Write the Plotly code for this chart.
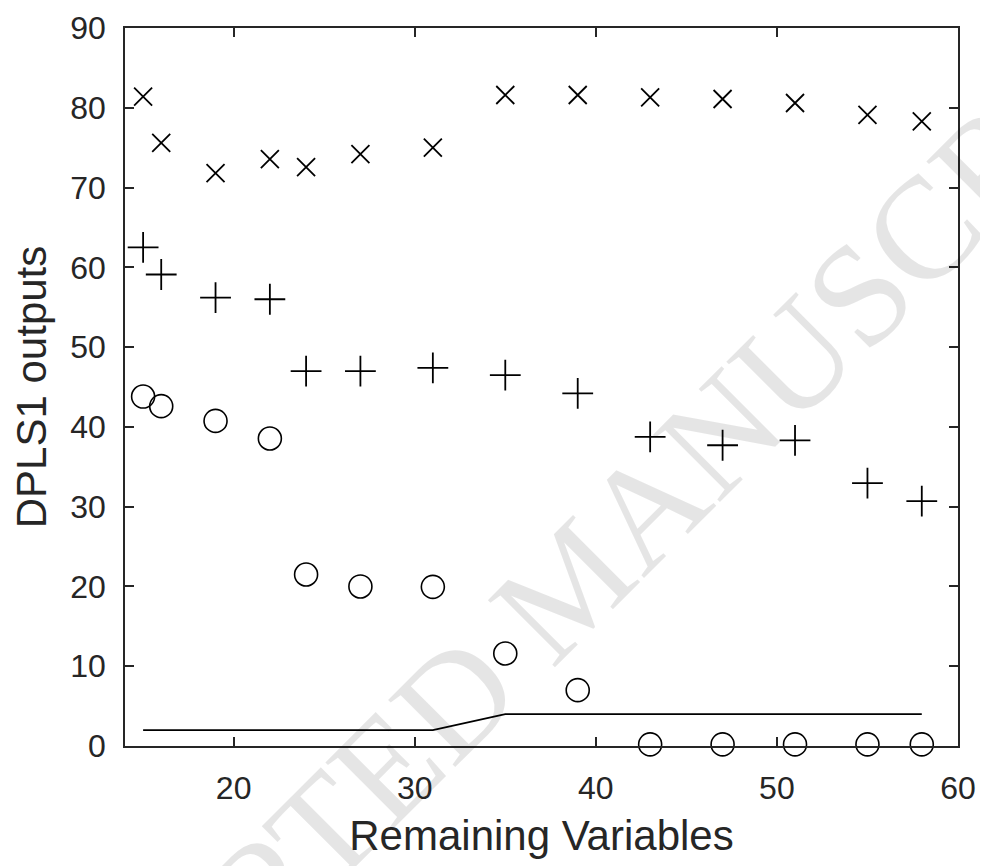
import plotly.graph_objects as go

# Data
remaining_vars = [15, 16, 19, 22, 24, 27, 31, 35, 39, 43, 47, 51, 55, 58]
series_x_marker = [81.4, 75.6, 71.8, 73.55, 72.55, 74.2, 75.0, 81.6, 81.6, 81.3, 81.1, 80.6, 79.1, 78.3]
series_plus = [62.5, 59.1, 56.2, 56.0, 47.0, 47.0, 47.4, 46.5, 44.2, 38.75, 37.7, 38.3, 32.95, 30.7]
series_circle = [43.8, 42.6, 40.75, 38.55, 21.5, 20.0, 19.95, 11.6, 7.0, 0.2, 0.2, 0.2, 0.2, 0.2]
series_line = [2, 2, 2, 2, 2, 2, 2, 4, 4, 4, 4, 4, 4, 4]

x_ticks = [20, 30, 40, 50, 60]
y_ticks = [0, 10, 20, 30, 40, 50, 60, 70, 80, 90]

axis_color = "#262626"
font_family = "Liberation Sans, Arial, Helvetica, sans-serif"

fig = go.Figure()

fig.add_trace(go.Scatter(
    x=remaining_vars, y=series_line, mode="lines",
    line=dict(color="black", width=1.8), cliponaxis=False, showlegend=False))

fig.add_trace(go.Scatter(
    x=remaining_vars, y=series_circle, mode="markers",
    marker=dict(symbol="circle-open", size=23, color="black", line=dict(width=1.6)),
    cliponaxis=False, showlegend=False))

fig.add_trace(go.Scatter(
    x=remaining_vars, y=series_plus, mode="markers",
    marker=dict(symbol="cross-thin-open", size=22, color="black", line=dict(width=1.8)),
    cliponaxis=False, showlegend=False))

fig.add_trace(go.Scatter(
    x=remaining_vars, y=series_x_marker, mode="markers",
    marker=dict(symbol="x-thin-open", size=18, color="black", line=dict(width=1.8)),
    cliponaxis=False, showlegend=False))

fig.add_annotation(
    text="ACCEPTED MANUSCRIPT", xref="paper", yref="paper", x=0.534, y=0.227,
    xanchor="center", yanchor="middle",
    showarrow=False, textangle=-45,
    font=dict(family="Liberation Serif, Times New Roman, serif", size=145,
              color="rgba(0,0,0,0.1)"))

fig.update_layout(
    width=988, height=866,
    margin=dict(l=117, r=38, t=20, b=128),
    plot_bgcolor="white", paper_bgcolor="white",
    font=dict(family=font_family, color=axis_color, size=32),
    showlegend=False,
)

fig.update_xaxes(
    range=[14, 60], tickvals=x_ticks, ticks="inside", ticklen=9, tickwidth=1.5,
    tickcolor=axis_color, showline=True, linecolor=axis_color, linewidth=1.5,
    mirror="ticks", showgrid=False, zeroline=False,
    tickfont=dict(size=32, color=axis_color), ticklabelstandoff=13,
    title=dict(text="Remaining Variables", font=dict(size=42, color=axis_color), standoff=15),
    automargin=False,
)

fig.update_yaxes(
    range=[0, 90], tickvals=y_ticks, ticks="inside", ticklen=9, tickwidth=1.5,
    tickcolor=axis_color, showline=True, linecolor=axis_color, linewidth=1.5,
    mirror="ticks", showgrid=False, zeroline=False,
    tickfont=dict(size=32, color=axis_color), ticklabelstandoff=11,
    title=dict(text="DPLS1 outputs", font=dict(size=42, color=axis_color), standoff=14),
    automargin=False,
)

fig.write_html("out.html")
